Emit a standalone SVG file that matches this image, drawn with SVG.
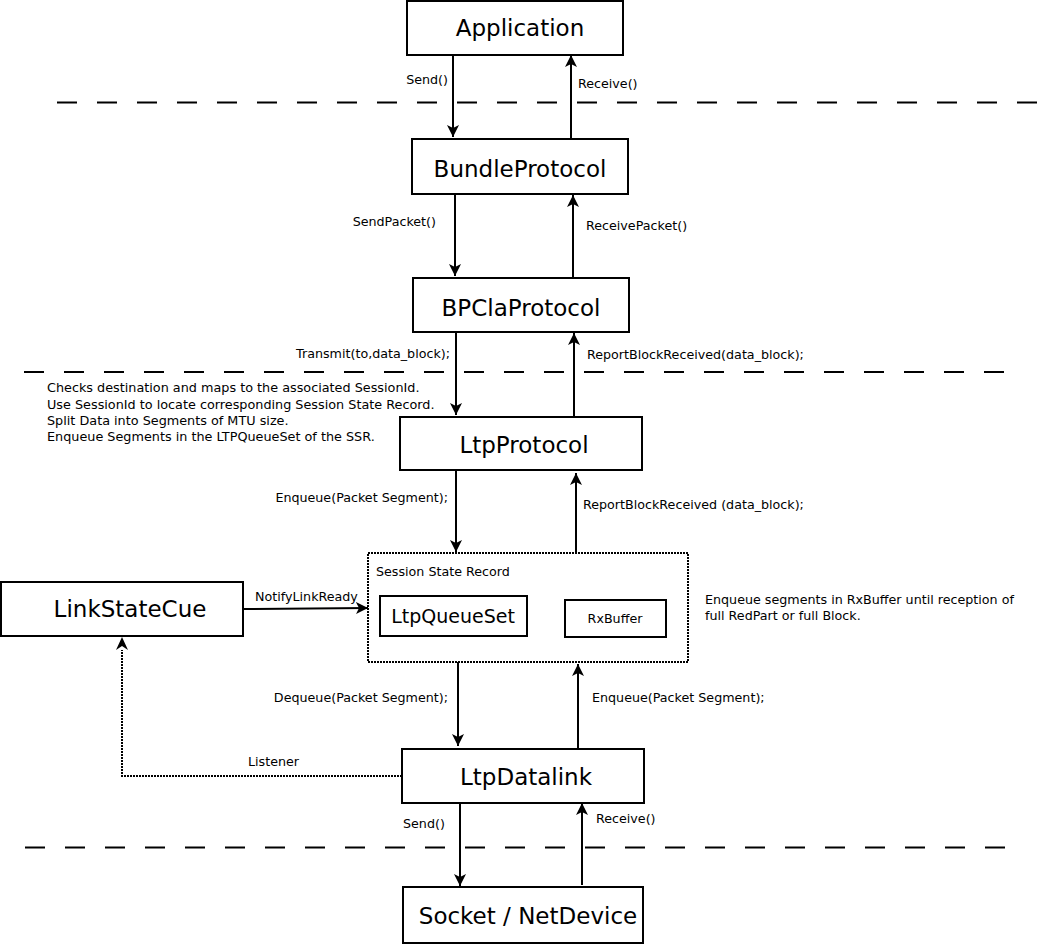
<svg xmlns="http://www.w3.org/2000/svg" width="1049" height="946" viewBox="0 0 1049 946">
<style>
.box{fill:#fff;stroke:#000;stroke-width:2}
.big{font-family:"DejaVu Sans","Liberation Sans",sans-serif;font-size:23px;fill:#000;text-anchor:middle}
.mid{font-family:"DejaVu Sans","Liberation Sans",sans-serif;font-size:19px;fill:#000;text-anchor:middle}
.lbl{font-family:"DejaVu Sans","Liberation Sans",sans-serif;font-size:12.7px;fill:#000}
.note{font-family:"DejaVu Sans","Liberation Sans",sans-serif;font-size:12.8px;fill:#000}
.sep{stroke:#000;stroke-width:2;stroke-dasharray:20 20;fill:none}
.arr{stroke:#000;stroke-width:2;fill:none;marker-end:url(#ah)}
.dot{stroke:#000;stroke-width:2;stroke-dasharray:2 1;fill:none}
</style>
<defs>
<marker id="ah" markerUnits="userSpaceOnUse" markerWidth="14" markerHeight="14" refX="12" refY="6" orient="auto">
<path d="M0,0 L12,6 L0,12 L3,6 z" fill="#000"/>
</marker>
</defs>
<rect width="1049" height="946" fill="#fff"/>
<g id="separators">
<line class="sep" x1="57" y1="102.5" x2="1040" y2="102.5"/>
<line class="sep" x1="24" y1="372" x2="1005" y2="372"/>
<line class="sep" x1="25" y1="847.5" x2="1005" y2="847.5"/>
</g>
<g id="connectors">
<line class="arr" x1="453" y1="55" x2="453" y2="137"/>
<line class="arr" x1="571" y1="139" x2="571" y2="55"/>
<line class="arr" x1="455" y1="194" x2="455" y2="276"/>
<line class="arr" x1="573" y1="278" x2="573" y2="195"/>
<line class="arr" x1="456" y1="332" x2="456" y2="415"/>
<line class="arr" x1="574" y1="416" x2="574" y2="333"/>
<line class="arr" x1="456" y1="470" x2="456" y2="552"/>
<line class="arr" x1="576" y1="553" x2="576" y2="473"/>
<line class="arr" x1="243" y1="609" x2="368" y2="608"/>
<line class="arr" x1="458" y1="662" x2="458" y2="746"/>
<line class="arr" x1="578" y1="748" x2="578" y2="664"/>
<path class="dot" d="M402,776 H122 V650"/>
<path d="M116,650 L122,637 L128,650 L122,646 z" fill="#000"/>
<line class="arr" x1="460" y1="803" x2="460" y2="886"/>
<line class="arr" x1="582" y1="885" x2="582" y2="803"/>
<text class="lbl" x="448" y="84" text-anchor="end">Send()</text>
<text class="lbl" x="578" y="88">Receive()</text>
<text class="lbl" x="436" y="226" text-anchor="end">SendPacket()</text>
<text class="lbl" x="586" y="230">ReceivePacket()</text>
<text class="lbl" x="450" y="358" text-anchor="end">Transmit(to,data_block);</text>
<text class="lbl" x="587" y="359">ReportBlockReceived(data_block);</text>
<text class="lbl" x="448" y="502" text-anchor="end">Enqueue(Packet Segment);</text>
<text class="lbl" x="583" y="509">ReportBlockReceived (data_block);</text>
<text class="lbl" x="255" y="601">NotifyLinkReady</text>
<text class="lbl" x="448" y="702" text-anchor="end">Dequeue(Packet Segment);</text>
<text class="lbl" x="592" y="702">Enqueue(Packet Segment);</text>
<text class="lbl" x="248" y="766">Listener</text>
<text class="lbl" x="403" y="828">Send()</text>
<text class="lbl" x="596" y="823">Receive()</text>
</g>
<g id="application">
<rect class="box" x="407" y="1" width="216" height="54"/>
<text class="big" x="520" y="36">Application</text>
</g>
<g id="bundleprotocol">
<rect class="box" x="412" y="139" width="216" height="55"/>
<text class="big" x="520" y="177">BundleProtocol</text>
</g>
<g id="bpclaprotocol">
<rect class="box" x="413" y="278" width="216" height="54"/>
<text class="big" x="521" y="316">BPClaProtocol</text>
</g>
<g id="ltp-notes">
<text class="note" x="47" y="392">Checks destination and maps to the associated SessionId.</text>
<text class="note" x="47" y="409">Use SessionId to locate corresponding Session State Record.</text>
<text class="note" x="47" y="425">Split Data into Segments of MTU size.</text>
<text class="note" x="47" y="441">Enqueue Segments in the LTPQueueSet of the SSR.</text>
</g>
<g id="ltpprotocol">
<rect class="box" x="400" y="417" width="242" height="53"/>
<text class="big" x="524" y="453">LtpProtocol</text>
</g>
<g id="session-state-record">
<rect class="dot" x="368" y="553" width="320" height="109"/>
<text class="lbl" x="376" y="576">Session State Record</text>
</g>
<g id="ltpqueueset">
<rect class="box" x="380" y="596" width="147" height="40"/>
<text class="mid" x="453" y="623">LtpQueueSet</text>
</g>
<g id="rxbuffer">
<rect class="box" x="565" y="600" width="101" height="37"/>
<text class="lbl" x="615" y="623" text-anchor="middle">RxBuffer</text>
</g>
<g id="rx-notes">
<text class="lbl" x="705" y="604">Enqueue segments in RxBuffer until reception of</text>
<text class="lbl" x="705" y="620">full RedPart or full Block.</text>
</g>
<g id="linkstatecue">
<rect class="box" x="1" y="582" width="242" height="54"/>
<text class="big" x="130" y="617">LinkStateCue</text>
</g>
<g id="ltpdatalink">
<rect class="box" x="402" y="749" width="242" height="54"/>
<text class="big" x="526" y="785">LtpDatalink</text>
</g>
<g id="socket-netdevice">
<rect class="box" x="403" y="887" width="240" height="56"/>
<text class="big" x="528" y="924">Socket / NetDevice</text>
</g>
</svg>
